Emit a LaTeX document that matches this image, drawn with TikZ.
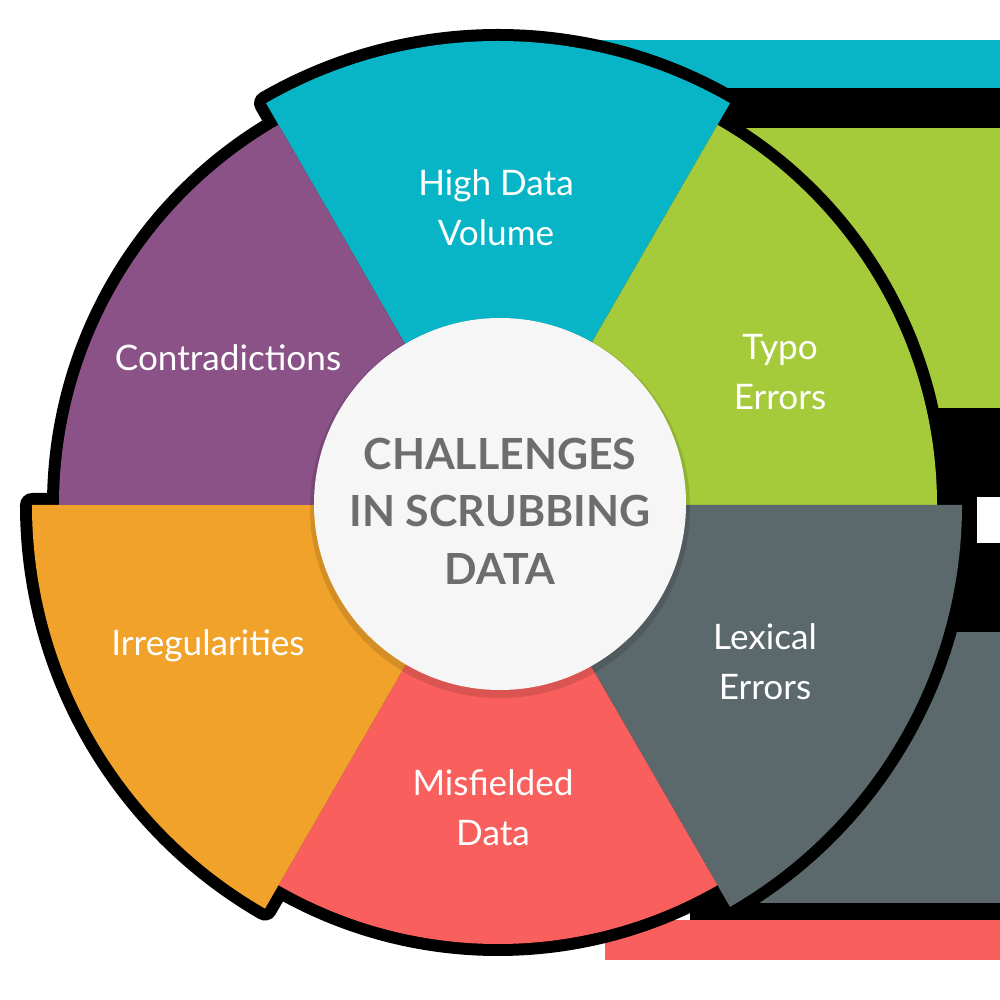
\documentclass[tikz,border=0pt]{standalone}
\usepackage{fontspec}
\setmainfont{Lato}
\usepackage{xcolor}
\usetikzlibrary{positioning}

\definecolor{cyanw}{HTML}{08B5C6}
\definecolor{greenw}{HTML}{A5CB3A}
\definecolor{grayw}{HTML}{5B686C}
\definecolor{redw}{HTML}{F9605D}
\definecolor{orangew}{HTML}{F1A22B}
\definecolor{purplew}{HTML}{8A5287}
\definecolor{hubfill}{HTML}{F6F6F6}
\definecolor{hubtext}{HTML}{6D6D6D}

\tikzset{
  rim/.style={draw=black, line width=0.24cm, line join=round},
  label/.style={text=white, align=center, font=\fontsize{10}{14.2}\selectfont},
  hub/.style={circle, fill=hubfill, minimum size=3.72cm, inner sep=0pt},
  hubtitle/.style={text=hubtext, align=center, font=\fontsize{12.2}{16.4}\selectfont\bfseries}
}

\begin{document}
\begin{tikzpicture}
  \useasboundingbox (-4.98,-4.95) rectangle (5.02,5.05);
  \fill[white] (-4.98,-4.95) rectangle (5.02,5.05);
  % bars behind the wheel
  \fill[black] (1.92,-4.15) rectangle (5.02,4.17);
  \fill[cyanw] (0.62,4.17) rectangle (5.02,4.65);
  \fill[greenw] (2.42,0.97) rectangle (5.02,3.77);
  \fill[white] (4.79,-0.38) rectangle (5.02,0.08);
  \fill[grayw] (2.42,-3.98) rectangle (5.02,-1.27);
  \fill[redw] (1.07,-4.55) rectangle (5.02,-4.15);
  % black rim of the wedges
  \draw[rim] (0,0) -- (60:4.64) arc[start angle=60, end angle=120, radius=4.64] -- cycle;
  \draw[rim] (0,0) -- (0:4.39) arc[start angle=0, end angle=60, radius=4.39] -- cycle;
  \draw[rim] (0,0) -- (-60:4.64) arc[start angle=-60, end angle=0, radius=4.64] -- cycle;
  \draw[rim] (0,0) -- (-120:4.39) arc[start angle=-120, end angle=-60, radius=4.39] -- cycle;
  \draw[rim] (0,0) -- (180:4.66) arc[start angle=180, end angle=240, radius=4.66] -- cycle;
  \draw[rim] (0,0) -- (120:4.39) arc[start angle=120, end angle=180, radius=4.39] -- cycle;
  % wedges
  \fill[cyanw] (0,0) -- (60:4.64) arc[start angle=60, end angle=120, radius=4.64] -- cycle;
  \fill[greenw] (0,0) -- (0:4.39) arc[start angle=0, end angle=60, radius=4.39] -- cycle;
  \fill[grayw] (0,0) -- (-60:4.64) arc[start angle=-60, end angle=0, radius=4.64] -- cycle;
  \fill[redw] (0,0) -- (-120:4.39) arc[start angle=-120, end angle=-60, radius=4.39] -- cycle;
  \fill[orangew] (0,0) -- (180:4.66) arc[start angle=180, end angle=240, radius=4.66] -- cycle;
  \fill[purplew] (0,0) -- (120:4.39) arc[start angle=120, end angle=180, radius=4.39] -- cycle;
  % labels
  \node[label] (volume) at (-0.02,2.97) {High Data\\Volume};
  \node[label] (typo) at (2.82,1.33) {Typo\\Errors};
  \node[label] (lexical) at (2.67,-1.57) {Lexical\\Errors};
  \node[label] (misfield) at (-0.05,-3.03) {Misfielded\\Data};
  \node[label] (irregular) at (-2.90,-1.41) {Irregularities};
  \node[label] (contra) at (-2.70,1.47) {Contradictions};
  % centre
  \fill[black, opacity=0.12] (0.02,-0.03) circle (1.90);
  \node[hub] (hub) at (0.02,0.01) {};
  \node[hubtitle] (challenges) at ([yshift=-0.07cm]hub.center) {CHALLENGES\\IN SCRUBBING\\DATA};
\end{tikzpicture}
\end{document}
